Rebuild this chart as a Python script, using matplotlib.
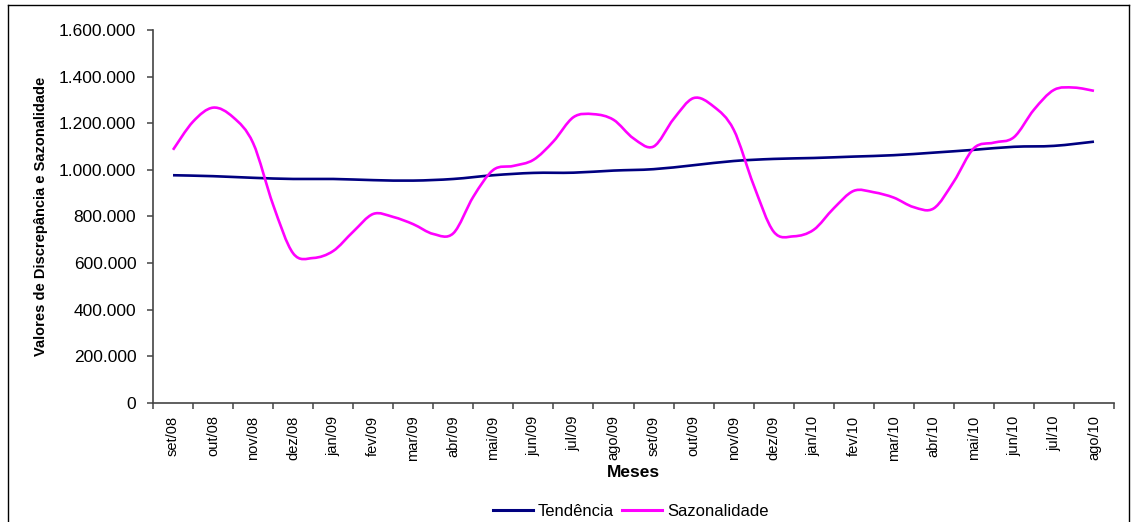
import matplotlib
matplotlib.use("Agg")
import matplotlib.pyplot as plt
from matplotlib.path import Path
from matplotlib.patches import PathPatch
from matplotlib.lines import Line2D
from matplotlib.ticker import FuncFormatter, FixedLocator
import numpy as np

plt.rcParams['font.family'] = ['Liberation Sans', 'DejaVu Sans']

meses = ["set/08", "out/08", "nov/08", "dez/08", "jan/09", "fev/09", "mar/09",
         "abr/09", "mai/09", "jun/09", "jul/09", "ago/09", "set/09", "out/09",
         "nov/09", "dez/09", "jan/10", "fev/10", "mar/10", "abr/10", "mai/10",
         "jun/10", "jul/10", "ago/10"]

# Tendência: one value per month
tendencia = [977000, 973000, 966000, 961000, 961000, 956000, 954000, 961000,
             977000, 987000, 988000, 997000, 1003000, 1020000, 1038000,
             1047000, 1051000, 1057000, 1063000, 1074000, 1086000, 1099000,
             1103000, 1121000]

# Sazonalidade: two values per month (start and middle of each month)
sazonalidade = [1086000, 1207000, 1267000, 1226000, 1115000, 850000, 642000,
                622000, 652000, 735000, 811000, 798000, 767000, 725000,
                728000, 885000, 1000000, 1017000, 1043000, 1122000, 1226000,
                1239000, 1215000, 1135000, 1100000, 1218000, 1308000,
                1272000, 1173000, 935000, 735000, 715000, 743000, 835000,
                910000, 904000, 881000, 840000, 835000, 950000, 1093000,
                1117000, 1140000, 1258000, 1343000, 1353000, 1339000]

x_tend = np.arange(len(tendencia), dtype=float)
x_saz = np.arange(len(sazonalidade)) / 2.0


def smooth_path(xs, ys, tension=1.0 / 6.0):
    """Bezier path through the points (Catmull-Rom style smoothing)."""
    pts = np.column_stack([xs, ys])
    n = len(pts)
    verts = [pts[0]]
    codes = [Path.MOVETO]
    for i in range(n - 1):
        p0 = pts[i - 1] if i > 0 else pts[i]
        p1 = pts[i]
        p2 = pts[i + 1]
        p3 = pts[i + 2] if i + 2 < n else pts[i + 1]
        c1 = p1 + (p2 - p0) * tension
        c2 = p2 - (p3 - p1) * tension
        verts += [c1, c2, p2]
        codes += [Path.CURVE4] * 3
    return Path(verts, codes)


fig = plt.figure(figsize=(11.32, 5.22), dpi=100)
ax = fig.add_axes([153 / 1132, 1 - 403 / 522, (1114 - 153) / 1132, (403 - 30) / 522])

navy = "#000080"
magenta = "#FF00FF"

ax.add_patch(PathPatch(smooth_path(x_tend, tendencia), facecolor="none",
                       edgecolor=navy, lw=1.9, capstyle="butt", joinstyle="round"))
ax.add_patch(PathPatch(smooth_path(x_saz, sazonalidade), facecolor="none",
                       edgecolor=magenta, lw=1.9, capstyle="butt", joinstyle="round"))

ax.set_xlim(-0.5, len(meses) - 0.5)
ax.set_ylim(0, 1600000)

ax.spines["top"].set_visible(False)
ax.spines["right"].set_visible(False)
for s in ("left", "bottom"):
    ax.spines[s].set_color("#444444")
    ax.spines[s].set_linewidth(1.2)

ax.set_yticks(np.arange(0, 1600001, 200000))
ax.yaxis.set_major_formatter(FuncFormatter(lambda v, p: f"{int(v):,}".replace(",", ".")))
ax.tick_params(axis="y", direction="out", length=4, width=1.1, color="#444444",
               labelsize=12.5, pad=8)

ax.xaxis.set_major_locator(FixedLocator(np.arange(-0.5, len(meses), 1.0)))
ax.xaxis.set_minor_locator(FixedLocator(np.arange(len(meses))))
ax.set_xticklabels([], minor=False)
ax.set_xticklabels(meses, minor=True, rotation=90, fontsize=10.5)
ax.tick_params(axis="x", which="major", direction="out", length=4, width=1.1,
               color="#444444")
ax.tick_params(axis="x", which="minor", length=0, pad=9)

ax.set_xlabel("Meses", fontsize=12.5, fontweight="bold", labelpad=3)
ax.set_ylabel("Valores de Discrepância e Sazonalidade", fontsize=10.5,
              fontweight="bold", labelpad=8)

handles = [Line2D([], [], color=navy, lw=2.2), Line2D([], [], color=magenta, lw=2.2)]
fig.legend(handles, ["Tendência", "Sazonalidade"], loc="center",
           bbox_to_anchor=(631 / 1132, 1 - 511 / 522), ncol=2, frameon=False,
           fontsize=12, handlelength=2.4, handletextpad=0.3, columnspacing=0.5)

# outer chart frame
fig.add_artist(Line2D([8 / 1132, 8 / 1132], [0, 1 - 5 / 522], transform=fig.transFigure,
                      color="black", lw=1))
fig.add_artist(Line2D([8 / 1132, 1129 / 1132], [1 - 5 / 522, 1 - 5 / 522],
                      transform=fig.transFigure, color="black", lw=1))
fig.add_artist(Line2D([1129 / 1132, 1129 / 1132], [0, 1 - 5 / 522], transform=fig.transFigure,
                      color="black", lw=1))

fig.savefig("out.png", dpi=100)
